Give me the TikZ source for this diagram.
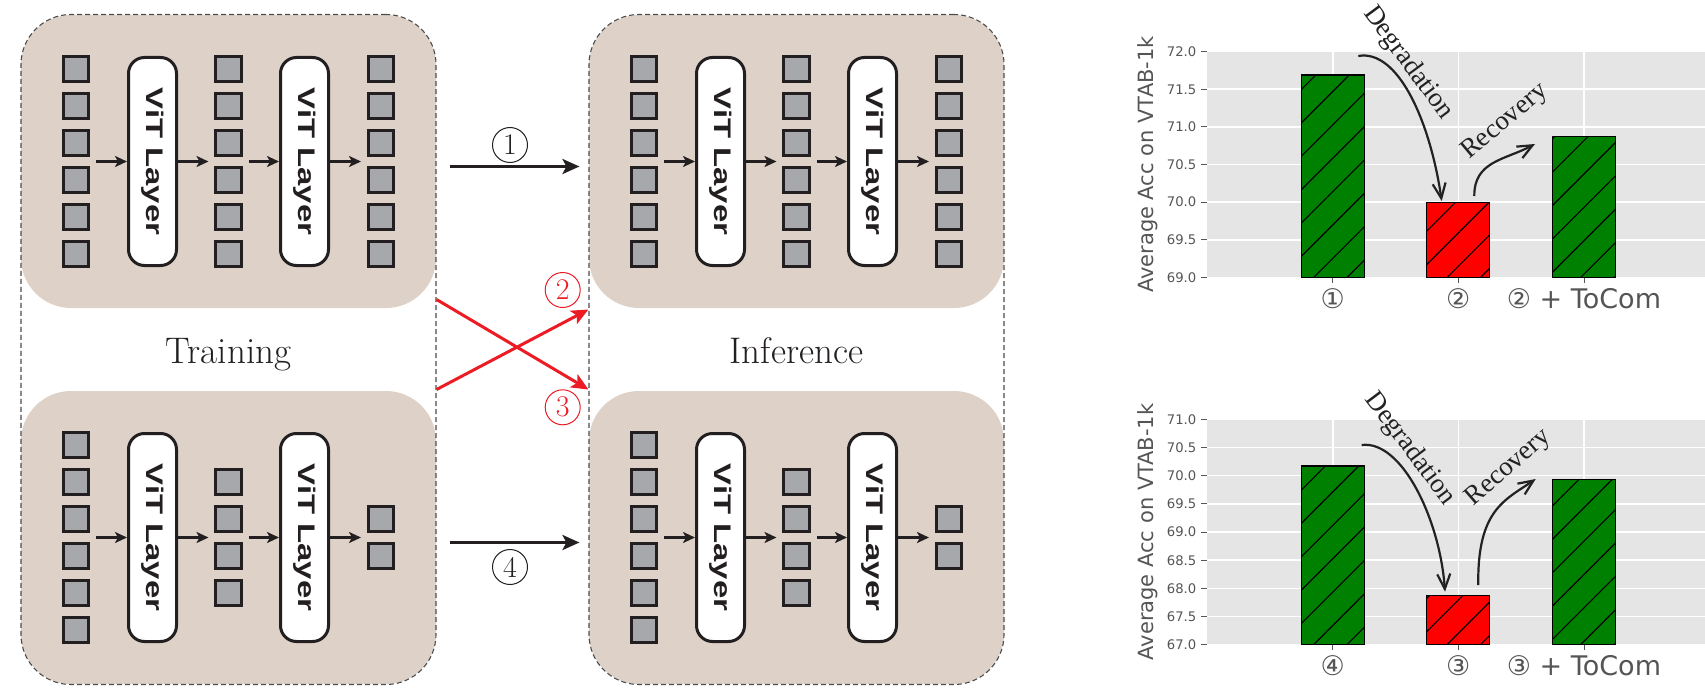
\documentclass[tikz,border=0pt]{standalone}
\usepackage{fontspec}
\usepackage{graphicx}
\usepackage{tikz}
\usetikzlibrary{arrows.meta}
\usetikzlibrary{patterns.meta}
\usetikzlibrary{calc}

\newfontfamily\chartfont{DejaVu Sans}
\newfontfamily\notefont{Liberation Serif}
\newfontfamily\layerfont{Liberation Sans}

\definecolor{panelbg}{RGB}{222,210,200}
\definecolor{tokfill}{RGB}{167,168,172}
\definecolor{tokline}{RGB}{35,31,32}
\definecolor{swapred}{RGB}{237,28,36}
\definecolor{axisgrey}{RGB}{85,85,85}
\definecolor{plotbg}{RGB}{229,229,229}
\definecolor{bargreen}{RGB}{0,128,0}
\definecolor{barred}{RGB}{255,0,0}
\definecolor{notecol}{RGB}{34,34,34}

\newcommand{\vitlabel}{\scalebox{1.37}[1]{ViT Layer}}

\begin{document}
\begin{tikzpicture}[x=1pt, y=-1pt,
	panel/.style={rectangle, rounded corners=50pt, fill=panelbg, minimum width=415pt, minimum height=293pt, inner sep=0pt},
	colframe/.style={rectangle, rounded corners=50pt, draw=black!70, line width=1.1pt, dash pattern=on 5pt off 3pt, minimum width=415pt, minimum height=670pt, inner sep=0pt},
	coltitle/.style={anchor=base, text=tokline, font=\fontsize{37}{40}\selectfont},
	token/.style={rectangle, draw=tokline, fill=tokfill, line width=3pt, minimum size=25.3pt, inner sep=0pt},
	vitbox/.style={rectangle, rounded corners=16pt, draw=tokline, fill=white, line width=3pt, minimum width=208pt, minimum height=48pt, inner sep=0pt, rotate=-90, text=tokline, font=\layerfont\bfseries\fontsize{24}{26}\selectfont},
	tokarrow/.style={line width=2.5pt, draw=tokline, -{Stealth[length=12pt,width=11pt,inset=3pt]}},
	bigarrow/.style={line width=3pt, draw=tokline, -{Stealth[length=17pt,width=15pt,inset=4pt]}},
	swaparrow/.style={bigarrow, draw=swapred},
	circnum/.style={circle, draw=tokline, text=tokline, line width=1pt, minimum size=35pt, inner sep=0pt, font=\fontsize{30}{30}\selectfont},
	gridline/.style={draw=white, line width=1.6pt},
	tickmark/.style={draw=axisgrey, line width=1pt},
	ticktext/.style={anchor=east, inner sep=0pt, text=axisgrey, font=\chartfont\fontsize{13.2}{15}\selectfont},
	catlabel/.style={inner sep=0pt, text=axisgrey, font=\chartfont\fontsize{27}{30}\selectfont},
	acclabel/.style={inner sep=0pt, rotate=90, text=axisgrey, font=\chartfont\fontsize{21}{23}\selectfont},
	accbar/.style={draw=black, line width=1.2pt, pattern={Lines[angle=45,distance=23.6pt,line width=1.1pt]}, pattern color=black},
	notearrow/.style={line width=2.2pt, draw=notecol, -{Straight Barb[length=15pt,width=13pt]}},
	notetext/.style={inner sep=0pt, text=notecol, font=\notefont\fontsize{27}{29}\selectfont}
]
	\useasboundingbox (0,0) rectangle (1705,690);

	\foreach \p/\cx/\cy/\nb/\nc in {tt/228.5/161.5/6/6, it/796.5/161.5/6/6, tb/228.5/537.5/4/2, ib/796.5/537.5/4/2} {
		\node [panel] (\p) at (\cx, \cy) {};
		\foreach \k/\n in {1/6, 2/\nb, 3/\nc} {
			\pgfmathtruncatemacro\m{\n}
			\foreach \j in {1,...,\m}
				\node [token] (\p-\k-\j) at ({\cx+(\k-2)*152.5}, {\cy+(\j-(\m+1)/2)*37.1}) {};
			\coordinate (\p-c\k) at ({\cx+(\k-2)*152.5}, \cy);
		}
		\node [vitbox] (\p-v1) at (\cx-76, \cy) {\vitlabel};
		\node [vitbox] (\p-v2) at (\cx+76, \cy) {\vitlabel};
		\draw [tokarrow] ([xshift=20pt]\p-c1) -- (\p-v1);
		\draw [tokarrow] (\p-v1) -- ([xshift=-20pt]\p-c2);
		\draw [tokarrow] ([xshift=20pt]\p-c2) -- (\p-v2);
		\draw [tokarrow] (\p-v2) -- ([xshift=-20pt]\p-c3);
	}

	\node [colframe] (train) at (228.5, 349.5) {};
	\node [colframe] (infer) at (796.5, 349.5) {};
	\node [coltitle] (trainlbl) at (228.5, 363.3) {Training};
	\node [coltitle] (inferlbl) at (796.5, 363.3) {Inference};

	\draw [bigarrow] ([xshift=13pt, yshift=183pt]train.east) -- ([xshift=-9pt, yshift=183pt]infer.west);
	\draw [bigarrow] ([xshift=13pt, yshift=-193pt]train.east) -- ([xshift=-9pt, yshift=-193pt]infer.west);
	\draw [swaparrow] ([yshift=-40pt]train.east) -- ([yshift=40pt]infer.west);
	\draw [swaparrow] ([yshift=50pt]train.east) -- ([yshift=-40pt]infer.west);
	\node [circnum] (case1) at (510, 145) {1};
	\node [circnum, draw=swapred, text=swapred] (case2) at (562.7, 290) {2};
	\node [circnum, draw=swapred, text=swapred] (case3) at (562.7, 407.3) {3};
	\node [circnum] (case4) at (510, 567) {4};

	\foreach \ch/\oy/\lo/\hi/\va/\vb/\vc/\ta/\tb in {1/0/69/72/71.69/70.0/70.875/①/②, 2/367.5/67/71/70.17/67.87/69.93/④/③} {
		\pgfmathsetmacro\sc{225.6/(\hi-\lo)}
		\pgfmathtruncatemacro\nt{2*(\hi-\lo)}
		\fill [plotbg] (1206.7, 51.7+\oy) rectangle (1705, 277.3+\oy);
		\foreach \i in {0,...,\nt} {
			\pgfmathsetmacro\yy{277.3+\oy-\i*0.5*\sc}
			\pgfmathsetmacro\val{\lo+\i/2}
			\draw [gridline] (1206.7, \yy) -- (1705, \yy);
			\draw [tickmark] (1201, \yy) -- (1206.7, \yy);
			\node [ticktext] (yt\ch-\i) at (1196.5, \yy) {\pgfmathprintnumber[fixed,fixed zerofill,precision=1,assume math mode=true]{\val}};
		}
		\foreach \x/\val/\col in {1332.7/\va/bargreen, 1458.3/\vb/barred, 1584/\vc/bargreen} {
			\pgfmathsetmacro\ytop{277.3+\oy-(\val-\lo)*\sc}
			\draw [gridline] (\x, 51.7+\oy) -- (\x, 277.3+\oy);
			\draw [tickmark] (\x, 277.3+\oy) -- (\x, 282.7+\oy);
			\draw [accbar, preaction={fill=\col}] (\x-31.5, 277.3+\oy) rectangle (\x+31.5, \ytop);
		}
		\node [catlabel] (xl\ch-1) at (1332.7, 298.3+\oy) {\ta};
		\node [catlabel] (xl\ch-2) at (1458.3, 298.3+\oy) {\tb};
		\node [catlabel] (xl\ch-3) at (1584, 298.3+\oy) {\tb{} + ToCom};
		\node [acclabel] (yl\ch) at (1147.5, 164.5+\oy) {Average Acc on VTAB-1k};
	}

	\coordinate (dg1-s) at (1358.3, 56);
	\coordinate (dg1-e) at (1441.7, 201);
	\draw [notearrow] (dg1-s) .. controls (1398, 49) and (1430, 121) .. (dg1-e);
	\node [notetext, rotate=-53.5] (dg1) at (1408, 63) {Degradation};
	\coordinate (rc1-s) at (1474.3, 196);
	\coordinate (rc1-e) at (1535, 144);
	\draw [notearrow] (rc1-s) .. controls (1474, 161) and (1505, 160) .. (rc1-e);
	\node [notetext, rotate=40] (rc1) at (1505, 122) {Recovery};

	\coordinate (dg2-s) at (1361.7, 445);
	\coordinate (dg2-e) at (1445, 591.7);
	\draw [notearrow] (dg2-s) .. controls (1402, 440) and (1440, 520) .. (dg2-e);
	\node [notetext, rotate=-53] (dg2) at (1410, 449) {Degradation};
	\coordinate (rc2-s) at (1478.3, 585);
	\coordinate (rc2-e) at (1535.7, 479);
	\draw [notearrow] (rc2-s) .. controls (1477, 510) and (1505, 500) .. (rc2-e);
	\node [notetext, rotate=41] (rc2) at (1509, 468) {Recovery};
\end{tikzpicture}
\end{document}
